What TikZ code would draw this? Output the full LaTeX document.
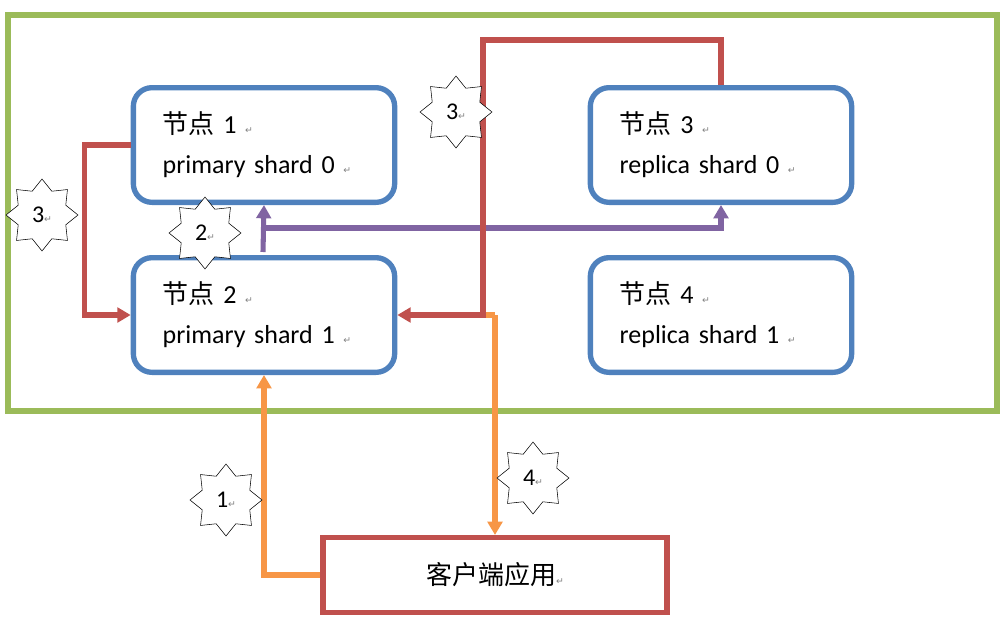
\documentclass[tikz,border=0pt]{standalone}
\usepackage{fontspec}
\setmainfont{Carlito}
\newfontfamily\cjk{Noto Sans CJK SC}
\newfontfamily\sym{DejaVu Sans}
\usetikzlibrary{shapes.geometric,arrows.meta}
\newcommand{\ret}{{\sym\fontsize{7}{7}\selectfont\color{gray}↵}}
\definecolor{cgreen}{HTML}{9BBB59}
\definecolor{cblue}{HTML}{4F81BD}
\definecolor{cred}{HTML}{C0504D}
\definecolor{cpurple}{HTML}{8064A2}
\definecolor{corange}{HTML}{F79646}
\begin{document}
\begin{tikzpicture}[x=0.75pt,y=-0.75pt,
    shardnode/.style={rectangle, draw=cblue, line width=4pt, rounded corners=14pt,
      minimum width=196pt, minimum height=86pt, text width=152pt, align=left,
      font=\fontsize{19.5}{30}\selectfont},
    client/.style={rectangle, draw=cred, line width=4pt,
      minimum width=258pt, minimum height=56pt, font=\fontsize{19.5}{22}\selectfont},
    stepmark/.style={star, star points=8, star point ratio=1.4, draw=black, thin,
      fill=white, minimum size=54pt, inner sep=0pt, font=\fontsize{18}{18}\selectfont},
    line/.style={draw, line width=3.8pt, -{Triangle[length=10pt,width=11pt]}}]

    \useasboundingbox (0,0) rectangle (1007,621);
    % cluster frame
    \draw[cgreen, line width=4pt] (8,15) rectangle (997,411);

    % Place nodes
    \node[shardnode] (n1) at (264,145) {{\cjk 节点} 1 \ret\\primary shard 0 \ret};
    \node[shardnode] (n3) at (721,145) {{\cjk 节点} 3 \ret\\replica shard 0 \ret};
    \node[shardnode] (n2) at (264,315) {{\cjk 节点} 2 \ret\\primary shard 1 \ret};
    \node[shardnode] (n4) at (721,315) {{\cjk 节点} 4 \ret\\replica shard 1 \ret};
    \node[client] (app) at (495,575) {{\cjk 客户端应用}\ret};

    \coordinate (top) at (483,40);
    \coordinate (mid) at (483,315);

    % paths
    \path[line, corange] (app.west) -| (n2.south);
    \path[line, corange, -] (mid) -- (495,315);
    \path[line, corange] (495,315) -- (app.north -| 495,0);
    \path[line, cred] (n1.west) -- ++(-46,0) |- (n2.west);
    \path[line, cpurple] (263,252) -- (n1.south);
    \path[line, cpurple] (263,228) -| (n3.south);
    \path[line, cred] (n3.north) |- (top) -- (mid) -- (n2.east);

    % step markers
    \node[stepmark] (s3a) at (42,215) {3\ret};
    \node[stepmark] (s2) at (205,233) {2\ret};
    \node[stepmark] (s3b) at (456,112) {3\ret};
    \node[stepmark] (s1) at (226,500) {1\ret};
    \node[stepmark] (s4) at (533,478) {4\ret};
\end{tikzpicture}
\end{document}
